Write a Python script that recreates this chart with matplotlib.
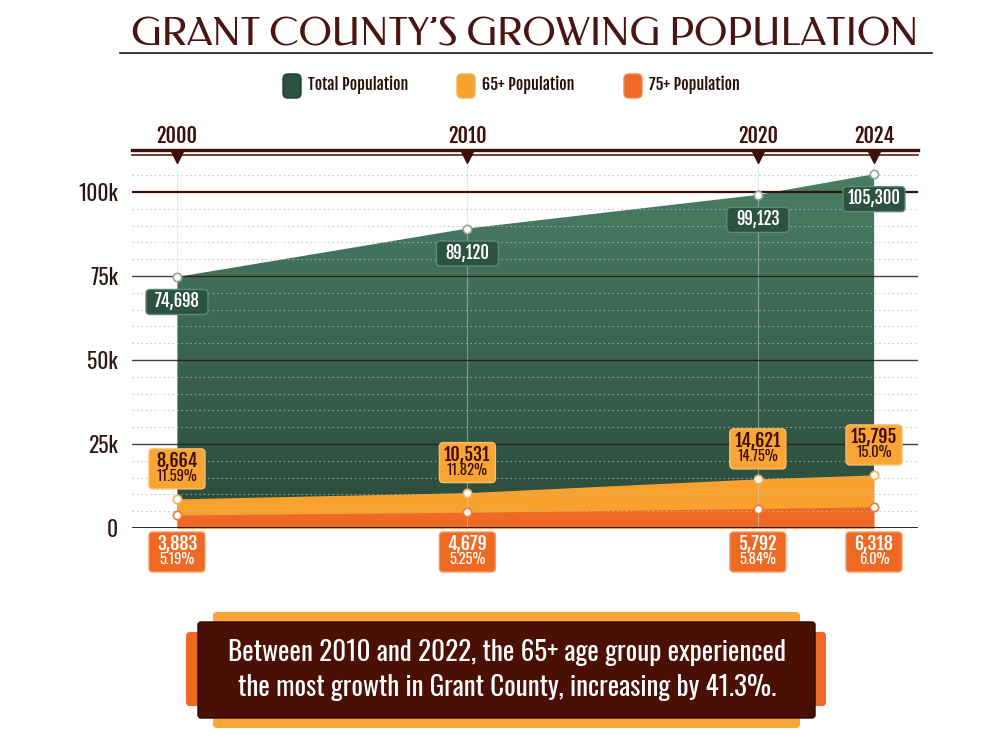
import numpy as np
import matplotlib
matplotlib.use('Agg')
import matplotlib.pyplot as plt
import matplotlib.patches as mpatches
import matplotlib.transforms as mtransforms
from matplotlib.colors import LinearSegmentedColormap

# data
years = [2000, 2010, 2020, 2024]
total_pop = [74698, 89120, 99123, 105300]
pop_65 = [8664, 10531, 14621, 15795]
pct_65 = ['11.59%', '11.82%', '14.75%', '15.0%']
pop_75 = [3883, 4679, 5792, 6318]
pct_75 = ['5.19%', '5.25%', '5.84%', '6.0%']
y_ticks = [0, 25000, 50000, 75000, 100000]
y_tick_labels = ['0', '25k', '50k', '75k', '100k']
legend_labels = ['Total Population', '65+ Population', '75+ Population']

title = "GRANT COUNTY\u2019S GROWING POPULATION"
callout = ("Between 2010 and 2022, the 65+ age group experienced\n"
           "the most growth in Grant County, increasing by 41.3%.")

# colours
BROWN = '#3f0f07'
GREEN_TOP = '#4a7e65'
GREEN_BOT = '#2a4a3a'
GREEN_BOX = '#2c5242'
ORANGE = '#f8a12f'
RED_ORANGE = '#ee6a24'
NARROW = ['Oswald', 'Roboto Condensed', 'DejaVu Sans']
BOLD = ['Fjalla One', 'Oswald', 'DejaVu Sans']
TITLE_FONT = ['Federo', 'DejaVu Sans']

plt.rcParams['font.family'] = NARROW

fig = plt.figure(figsize=(10, 7.5), dpi=100)
fig.patch.set_facecolor('white')

# main chart axes (pixel layout: x 132..918, y 155..528)
ax = fig.add_axes([0.132, 1 - 528 / 750, 0.786, 373 / 750])
ax.set_facecolor('none')

# green area with vertical gradient
poly = ax.fill_between(years, total_pop, color='none', zorder=1)
cmap = LinearSegmentedColormap.from_list('g', [GREEN_BOT, GREEN_TOP])
grad = ax.imshow(np.linspace(0, 1, 256).reshape(-1, 1), cmap=cmap, aspect='auto',
                 extent=[years[0], years[-1], 0, max(total_pop)], origin='lower', zorder=1)
grad.set_clip_path(poly.get_paths()[0], transform=ax.transData)

ax.fill_between(years, pop_65, color=ORANGE, lw=0, zorder=2)
ax.fill_between(years, pop_75, color=RED_ORANGE, lw=0, zorder=3)

x_per_year = 697 / 24
ax.set_xlim(years[0] - 45 / x_per_year, years[-1] + 44 / x_per_year)
ax.set_ylim(0, 111000)

# grid lines
for v in range(5000, 110000, 5000):
    if v % 25000:
        ax.axhline(v, color='#b8b8b8', lw=0.8, ls=(0, (1.5, 2.5)), zorder=4, alpha=0.7)
for v in y_ticks[1:]:
    if v == 100000:
        ax.axhline(v, color='#3a0f08', lw=1.6, zorder=5)
    else:
        ax.axhline(v, color='#2a1a14', lw=1.0, zorder=5, alpha=0.85)
ax.axhline(0, color='#241008', lw=2.0, zorder=6)
for x in years:
    ax.axvline(x, color='#d4d4d4', lw=0.8, zorder=4, alpha=0.5)

# y tick labels
ax.set_yticks(y_ticks)
ax.set_yticklabels(y_tick_labels)
ax.tick_params(axis='y', length=0, pad=10, labelsize=15.5, labelcolor='#2b160f')
ax.set_xticks([])
for s in ax.spines.values():
    s.set_visible(False)

# top double rule, triangles and year labels
ax.plot([0, 1], [1.0, 1.0], transform=ax.transAxes, color=BROWN, lw=1.1, clip_on=False, zorder=7)
ax.plot([0, 1], [1 + 5 / 373, 1 + 5 / 373], transform=ax.transAxes, color=BROWN, lw=2.4,
        clip_on=False, zorder=7)
top_trans = mtransforms.blended_transform_factory(ax.transData, ax.transAxes)
ax.plot(years, [1 - 2 / 373] * len(years), 'v', color=BROWN, ms=9, transform=top_trans,
        clip_on=False, zorder=8)
for x in years:
    ax.text(x, 1 + 19 / 373, str(x), transform=top_trans, ha='center', va='center',
            fontsize=14.5, family=BOLD, color=BROWN)

# points
ax.plot(years, total_pop, 'o', ms=6, mfc='white', mec='#8fa69a', mew=1.2, zorder=9, clip_on=False)
ax.plot(years, pop_65, 'o', ms=6, mfc='white', mec='#f3b45a', mew=1.2, zorder=9, clip_on=False)
ax.plot(years, pop_75, 'o', ms=6, mfc='white', mec='#ef7a3a', mew=1.2, zorder=9, clip_on=False)


def px_box(x, y, dx, dy, w, h, face, edge, lines):
    # box of w x h pixels centred dx,dy pixels away from data point (x, y)
    tr = fig.dpi_scale_trans + mtransforms.ScaledTranslation(x, y, ax.transData)
    d = fig.dpi
    box = mpatches.FancyBboxPatch(((dx - w / 2) / d, (dy - h / 2) / d), w / d, h / d,
                                  boxstyle='round,pad=0,rounding_size=%f' % (4 / d),
                                  fc=face, ec=edge, lw=1.0, transform=tr, zorder=10,
                                  clip_on=False)
    ax.add_patch(box)
    for (oy, txt, size, fam, col) in lines:
        ax.text(dx / d, (dy + oy) / d, txt, transform=tr, ha='center', va='center',
                fontsize=size, family=fam, color=col, zorder=11, clip_on=False)


for x, v in zip(years, total_pop):
    px_box(x, v, 0, -25, 62, 25, GREEN_BOX, '#5f8a76',
           [(1, f'{v:,}', 12, BOLD, 'white')])

for x, v, p in zip(years, pop_65, pct_65):
    px_box(x, v, 0, 30, 56, 40, '#f9a535', '#f7bf6a',
           [(8, f'{v:,}', 13, BOLD, '#3a0c05'), (-8, p, 10.5, NARROW, '#3a0c05')])

for x, v, p in zip(years, pop_75, pct_75):
    px_box(x, 0, 0, -24, 56, 40, RED_ORANGE, '#f39a66',
           [(8, f'{v:,}', 13, BOLD, 'white'), (-8, p, 10.5, NARROW, 'white')])

# overlay axes in pixel coordinates for title, legend and callout
ov = fig.add_axes([0, 0, 1, 1], zorder=20)
ov.set_xlim(0, 1000)
ov.set_ylim(750, 0)
ov.axis('off')
ov.patch.set_alpha(0)

ov.text(525, 35, title, ha='center', va='center', fontsize=28, color='#4a1510',
        family=TITLE_FONT)
ov.plot([120, 932], [53, 53], color='#2a0f08', lw=1.2)

legend_colors = [GREEN_BOX, ORANGE, RED_ORANGE]
legend_edges = ['#1f3a2d', '#f0b050', '#f08a50']
legend_x = [283, 457, 624]
for lx, lab, c, e in zip(legend_x, legend_labels, legend_colors, legend_edges):
    ov.add_patch(mpatches.FancyBboxPatch((lx, 74), 18, 24, boxstyle='round,pad=0,rounding_size=5',
                                         fc=c, ec=e, lw=1))
    ov.text(lx + 25, 85, lab, ha='left', va='center', fontsize=11.5, family=BOLD,
            color='#2a0f08')

# callout
ov.add_patch(mpatches.FancyBboxPatch((213, 612), 587, 116, boxstyle='round,pad=0,rounding_size=4',
                                     fc='#f9a53a', ec='none'))
ov.add_patch(mpatches.FancyBboxPatch((186, 632), 640, 74, boxstyle='round,pad=0,rounding_size=4',
                                     fc=RED_ORANGE, ec='none'))
ov.add_patch(mpatches.FancyBboxPatch((198, 622), 617, 96, boxstyle='round,pad=0,rounding_size=3',
                                     fc='#4a0f05', ec='#2a0602', lw=1))
ov.text(507, 670, callout, ha='center', va='center', fontsize=19.5, color='white',
        linespacing=1.4)

fig.savefig('out.png', dpi=100, facecolor='white')
